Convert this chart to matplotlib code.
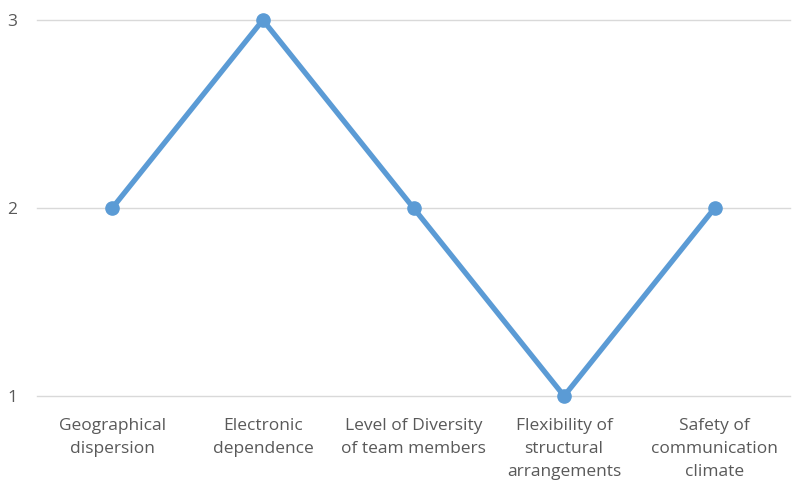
import matplotlib
matplotlib.use("Agg")
import matplotlib.pyplot as plt

categories = [
    "Geographical\ndispersion",
    "Electronic\ndependence",
    "Level of Diversity\nof team members",
    "Flexibility of\nstructural\narrangements",
    "Safety of\ncommunication\nclimate",
]
values = [2, 3, 2, 1, 2]
yticks = [1, 2, 3]

LINE_COLOR = "#5B9BD5"
TEXT_COLOR = "#595959"
GRID_COLOR = "#D9D9D9"

plt.rcParams["font.family"] = ["Open Sans", "DejaVu Sans"]

fig = plt.figure(figsize=(8.0, 4.93), dpi=100)
ax = fig.add_axes([37 / 800, 1 - 396 / 493, (790 - 37) / 800, (396 - 20) / 493])

x = list(range(len(categories)))
ax.plot(x, values, color=LINE_COLOR, lw=3.8, marker="o", ms=9.5,
        solid_capstyle="round", zorder=3, clip_on=False)

ax.set_xlim(-0.5, len(categories) - 0.5)
ax.set_ylim(1, 3)
ax.set_yticks(yticks)
ax.set_yticklabels([str(v) for v in yticks])
ax.set_xticks(x)
ax.set_xticklabels(categories, linespacing=1.58)

ax.grid(axis="y", color=GRID_COLOR, lw=1.0)
for gl in ax.get_ygridlines():
    gl.set_clip_on(False)
ax.set_axisbelow(True)
for s in ax.spines.values():
    s.set_visible(False)
ax.tick_params(axis="both", length=0, colors=TEXT_COLOR, labelsize=12.5)
ax.tick_params(axis="x", pad=16)
ax.tick_params(axis="y", pad=14)

fig.savefig("out.png", dpi=100)
